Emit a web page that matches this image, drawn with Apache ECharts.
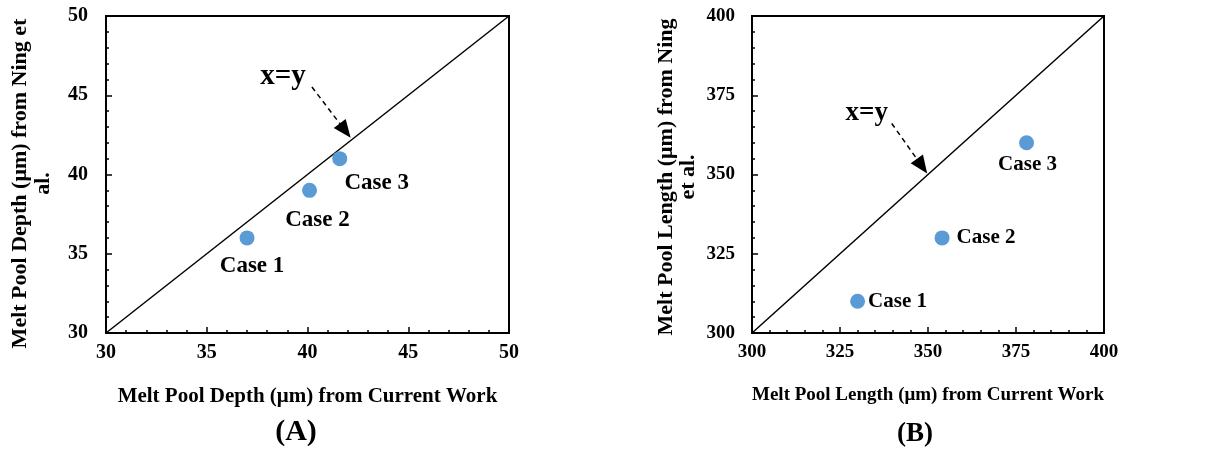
<!DOCTYPE html>
<html><head><meta charset="utf-8">
<script src="https://cdn.jsdelivr.net/npm/echarts@6/dist/echarts.min.js"></script>
<style>html,body{margin:0;padding:0;background:#fff}#c{width:1218px;height:450px}</style>
</head><body><div id="c"></div>
<script>
// ---- data ----
const caseNames = ['Case 1', 'Case 2', 'Case 3'];
const depthCurrent = [37, 40.1, 41.6];
const depthNing = [36, 39, 41];
const lengthCurrent = [330, 354, 378];
const lengthNing = [310, 330, 360];
const depthTicks = [30, 35, 40, 45, 50];
const lengthTicks = [300, 325, 350, 375, 400];
const depthArrow = [[40.22, 45.52], [41.87, 42.77]];
const lengthArrow = [[339.7, 366.1], [348.3, 352.6]];
const depthXYLabel = [38.78, 46.2];
const lengthXYLabel = [332.6, 369.4];
const xyText = 'x=y';
const depthXName = 'Melt Pool Depth (\u03bcm) from Current Work';
const depthYName = 'Melt Pool Depth (\u03bcm) from Ning et\nal.';
const lengthXName = 'Melt Pool Length (\u03bcm) from Current Work';
const lengthYName = 'Melt Pool Length (\u03bcm) from Ning\net al.';
const panelTitles = ['(A)', '(B)'];

// ---- styles ----
const FONT = '"Liberation Serif", "Times New Roman", serif';
const BLACK = '#000';
const DOT = '#5b9bd5';

function axisCfg(ticks, gridIndex, opts) {
  return {
    type: 'value', gridIndex,
    min: ticks[0], max: ticks[ticks.length - 1], interval: ticks[1] - ticks[0],
    splitLine: { show: false },
    axisLine: { show: true, onZero: false, lineStyle: { color: BLACK, width: 2 } },
    axisTick: { show: true, inside: true, length: 6, lineStyle: { color: BLACK, width: 1.5 } },
    minorTick: { show: true, splitNumber: 5, length: 3, lineStyle: { color: BLACK, width: 1.5 } },
    axisLabel: { color: BLACK, fontFamily: FONT, fontWeight: 'bold', fontSize: opts.tickSize, margin: opts.margin },
    name: opts.name, nameLocation: 'middle', nameGap: opts.nameGap,
    nameRotate: opts.rotate,
    nameTextStyle: { color: BLACK, fontFamily: FONT, fontWeight: 'bold', fontSize: opts.nameSize, lineHeight: opts.lineHeight, padding: opts.padding || 0 }
  };
}

function pts(xs, ys) { return xs.map((x, i) => [x, ys[i]]); }

const labelsA = [
  { position: 'bottom', distance: 9, offset: [5, 0] },
  { position: 'bottom', distance: 11, offset: [8, 0] },
  { position: 'bottom', distance: 5, offset: [37, 0] }
];
const labelsB = [
  { position: 'right', distance: 3, offset: [0, 0] },
  { position: 'right', distance: 7, offset: [0, 0] },
  { position: 'bottom', distance: 4, offset: [1, 0] }
];

function scatterSeries(xi, xs, ys, labels, size) {
  const base = { show: true, formatter: '{b}', color: BLACK, opacity: 1, textBorderWidth: 0, textShadowBlur: 0,
    fontFamily: FONT, fontWeight: 'bold', fontSize: size };
  return {
    type: 'scatter', xAxisIndex: xi, yAxisIndex: xi,
    symbol: 'circle', symbolSize: 15,
    itemStyle: { color: DOT, opacity: 1 },
    label: base,
    data: pts(xs, ys).map((p, i) => ({
      value: p, name: caseNames[i],
      label: Object.assign({}, base, labels[i])
    })),
    z: 5
  };
}

function diagSeries(xi, ticks, arrow, labelPos, xySize) {
  const lo = ticks[0], hi = ticks[ticks.length - 1];
  return {
    type: 'line', xAxisIndex: xi, yAxisIndex: xi,
    data: [[lo, lo], [hi, hi]], symbol: 'none',
    lineStyle: { color: BLACK, width: 1.5 },
    silent: true,
    markLine: {
      silent: true,
      symbol: ['none', 'triangle'], symbolSize: [15, 18],
      label: { show: false },
      lineStyle: { color: BLACK, width: 1.5, type: [5, 4] },
      data: [[{ coord: arrow[0] }, { coord: arrow[1] }]]
    },
    markPoint: {
      silent: true,
      symbol: 'circle', symbolSize: 1, itemStyle: { color: 'rgba(0,0,0,0)' },
      label: { show: true, position: 'inside', formatter: xyText, color: BLACK, fontFamily: FONT, fontWeight: 'bold', fontSize: xySize },
      data: [{ coord: labelPos }]
    }
  };
}

const option = {
  animation: false,
  backgroundColor: '#fff',
  grid: [
    { left: 106, top: 16, width: 403, height: 317, show: true, borderColor: BLACK, borderWidth: 2, containLabel: false, outerBoundsMode: 'none' },
    { left: 752, top: 16, width: 352, height: 317, show: true, borderColor: BLACK, borderWidth: 2, containLabel: false, outerBoundsMode: 'none' }
  ],
  xAxis: [
    axisCfg(depthTicks, 0, { tickSize: 20, margin: 10, name: depthXName, nameGap: 53, nameSize: 21 }),
    axisCfg(lengthTicks, 1, { tickSize: 19, margin: 10, name: lengthXName, nameGap: 53, nameSize: 19 })
  ],
  yAxis: [
    axisCfg(depthTicks, 0, { tickSize: 20, margin: 18, name: depthYName, nameGap: 51, nameSize: 22, rotate: 90, lineHeight: 23, padding: [0, 18, 0, 0] }),
    axisCfg(lengthTicks, 1, { tickSize: 19, margin: 17, name: lengthYName, nameGap: 53, nameSize: 22, rotate: 90, lineHeight: 22, padding: [0, 5, 0, 0] })
  ],
  series: [
    diagSeries(0, depthTicks, depthArrow, depthXYLabel, 29),
    scatterSeries(0, depthCurrent, depthNing, labelsA, 23),
    diagSeries(1, lengthTicks, lengthArrow, lengthXYLabel, 27),
    scatterSeries(1, lengthCurrent, lengthNing, labelsB, 21)
  ],
  graphic: [
    { type: 'text', x: 296, y: 432, style: { text: panelTitles[0], fill: BLACK, font: 'bold 30px ' + FONT, textAlign: 'center', textVerticalAlign: 'middle' } },
    { type: 'text', x: 915, y: 434, style: { text: panelTitles[1], fill: BLACK, font: 'bold 27px ' + FONT, textAlign: 'center', textVerticalAlign: 'middle' } }
  ]
};

const chart = echarts.init(document.getElementById('c'), null, { renderer: 'canvas' });
chart.setOption(option);
</script>
</body></html>
